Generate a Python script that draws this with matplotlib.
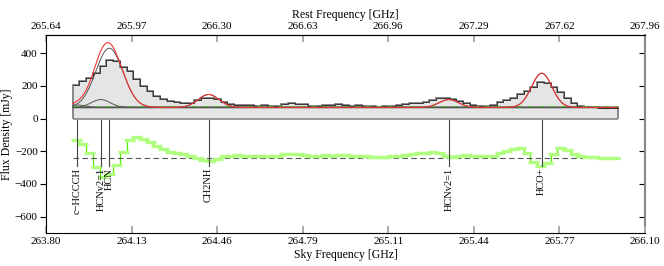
import numpy as np
import matplotlib
matplotlib.use('Agg')
import matplotlib.pyplot as plt

plt.rcParams['font.family'] = ['Liberation Serif', 'DejaVu Serif']
plt.rcParams['font.size'] = 8

# spectrum channels (sky frequency, GHz)
CHAN0 = 263.9025
DNU = 0.02584
flux = [208, 228, 248, 280, 322, 358, 352, 318, 288, 240,
        200, 168, 140, 120, 105, 100, 97, 94, 112, 126,
        128, 118, 102, 90, 85, 82, 80, 78, 80, 78,
        76, 90, 92, 90, 86, 78, 76, 84, 80, 86,
        84, 78, 80, 76, 74, 72, 74, 78, 80, 86,
        92, 96, 101, 116, 126, 128, 118, 106, 92, 82,
        78, 76, 80, 98, 112, 126, 150, 170, 192, 222,
        215, 195, 165, 125, 95, 76, 72, 70, 66, 64, 64]

# fitted lines
line_names = ['c\u2212HCCCH', 'HCNv2=1', 'HCN', 'CH2NH', 'HCNv2=1', 'HCO+']
line_rest = [265.762, 265.853, 265.886, 266.270, 267.199, 267.558]
line_amp = [15, 48, 362, 79, 48, 209]
line_sigma = [0.030, 0.036, 0.052, 0.040, 0.037, 0.039]
CONT = 68
CONT_FIT = 73
REST_OVER_SKY = 1.00698
RESID_OFFSET = -240

sky_ticks = ['263.80', '264.13', '264.46', '264.79', '265.11', '265.44', '265.77', '266.10']
rest_ticks = ['265.64', '265.97', '266.30', '266.63', '266.96', '267.29', '267.62', '267.96']
SKY_LIM = (263.80, 266.10)
REST_LIM = (265.64, 267.96)


def gauss(x, a, x0, s):
    return a * np.exp(-0.5 * ((x - x0) / s) ** 2)


def model(x, sky):
    y = np.full_like(x, CONT, dtype=float)
    for a, x0, s in zip(line_amp, sky, line_sigma):
        y += gauss(x, a, x0, s)
    return y


def main():
    flux_a = np.array(flux, dtype=float)
    n = len(flux_a)
    edges = CHAN0 + DNU * np.arange(n + 1)
    centers = 0.5 * (edges[:-1] + edges[1:])
    sky = [f / REST_OVER_SKY for f in line_rest]

    fig = plt.figure(figsize=(6.64, 2.66), dpi=100)
    ax = fig.add_axes([0.0693, 0.124, 0.9021, 0.744])

    # data
    ax.stairs(flux_a, edges, baseline=0, fill=True, color='#e5e5e5', lw=0)
    ax.stairs(flux_a, edges, baseline=0, color='#808080', lw=1.3)
    ax.stairs(flux_a, edges, baseline=None, color='#222222', lw=0.55)
    ax.hlines(0, edges[0], edges[-1], color='#888888', lw=1.2)

    # continuum
    ax.hlines(CONT, edges[0], edges[-1], color='black', lw=1.0)
    ax.hlines(CONT_FIT, edges[0], edges[-1], color='#44ff00', lw=1.3,
              linestyles=(0, (3, 3)))

    # components + total model
    xf = np.linspace(edges[0], edges[-1], 400)
    for a, x0, s in zip(line_amp, sky, line_sigma):
        ax.plot(xf, CONT + gauss(xf, a, x0, s), color='#555555', lw=0.7)
    ax.plot(xf, model(xf, sky), color='#ee3333', lw=0.8)

    # residuals
    resid = flux_a - model(centers, sky) + RESID_OFFSET
    ax.hlines(RESID_OFFSET, edges[0], edges[-1] + 0.01, color='#555555', lw=0.8,
              linestyles=(0, (5, 3)))
    ax.hlines(resid, edges[:-1] - 0.008, edges[1:] + 0.008, color='#b0ff80', lw=2.4)
    ax.stairs(resid, edges, baseline=None, color='#55ee00', lw=0.9)

    # line markers
    for name, x0 in zip(line_names, sky):
        ax.plot([x0, x0], [-10, -290], color='#444444', lw=0.8)
        ax.text(x0, -302, name, rotation=90, ha='center', va='top', fontsize=7.5)

    ax.set_xlim(*SKY_LIM)
    ax.set_ylim(-700, 510)
    ax.set_xticks(np.linspace(*SKY_LIM, len(sky_ticks)))
    ax.set_xticklabels(sky_ticks)
    ax.set_yticks([-600, -400, -200, 0, 200, 400])
    ax.tick_params(axis='x', direction='in', length=5, width=1.4, color='#aaaaaa', pad=3)
    ax.tick_params(axis='y', direction='out', length=4, width=0.8, pad=2)
    ax.set_xlabel('Sky Frequency [GHz]', fontsize=8.5, labelpad=2)
    ax.set_ylabel('Flux Density [mJy]', fontsize=8.5, labelpad=1)
    ax.spines['right'].set_visible(False)

    k = (REST_LIM[1] - REST_LIM[0]) / (SKY_LIM[1] - SKY_LIM[0])
    top = ax.secondary_xaxis('top', functions=(lambda f: REST_LIM[0] + (f - SKY_LIM[0]) * k,
                                               lambda r: SKY_LIM[0] + (r - REST_LIM[0]) / k))
    top.set_xticks(np.linspace(*REST_LIM, len(rest_ticks)))
    top.set_xticklabels(rest_ticks)
    top.tick_params(direction='in', length=5, width=1.4, color='#aaaaaa', pad=3)
    top.set_xlabel('Rest Frequency [GHz]', fontsize=8.5, labelpad=3)

    right = ax.secondary_yaxis('right')
    right.set_yticks([-600, -400, -200, 0, 200, 400])
    right.set_yticklabels([])
    right.tick_params(direction='in', length=4, width=0.8)
    right.spines['right'].set_color('#888888')
    right.spines['right'].set_linewidth(1.5)

    fig.savefig('out.png', dpi=100)


if __name__ == "__main__":
    main()
